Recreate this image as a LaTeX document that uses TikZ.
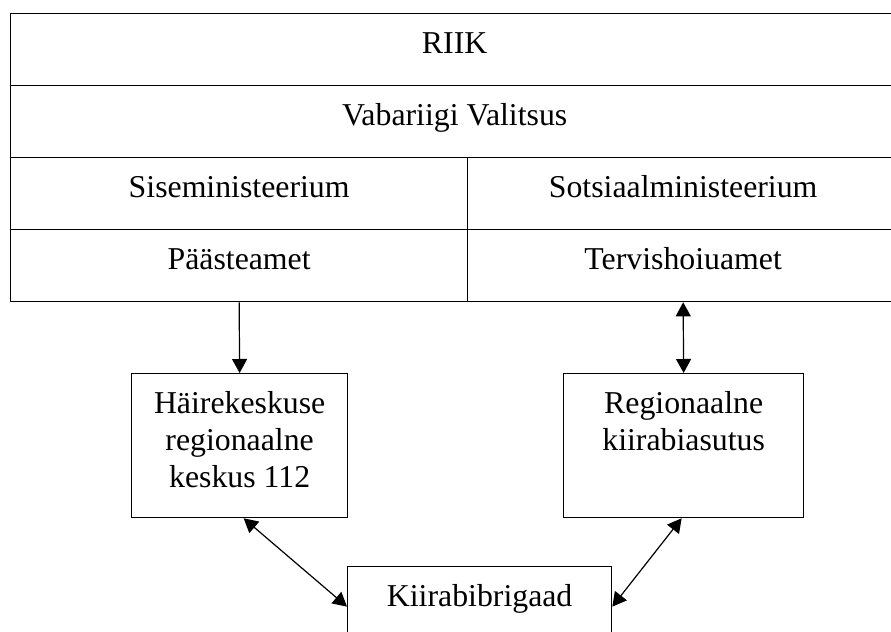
\documentclass[tikz,border=0pt]{standalone}
\usepackage{fontspec}
\setmainfont{Liberation Serif}
\usetikzlibrary{positioning,arrows.meta,calc}

\tikzset{
  cell/.style={draw, line width=0.65pt, inner sep=0pt, anchor=north west,
               text height=20pt, text depth=16pt},
  box/.style={draw, line width=0.65pt, inner sep=0pt, anchor=north west, align=center,
              text height=20pt, text depth=52pt},
  link/.style={line width=0.6pt, -{Triangle[length=7pt, width=7.5pt]}},
  twoway/.style={line width=0.6pt, {Triangle[length=7pt, width=7.5pt]}-{Triangle[length=7pt, width=7.5pt]}},
}

\begin{document}
\begin{tikzpicture}[x=0.5pt, y=-0.5pt, font=\fontsize{15.9}{18.35}\selectfont]
    \useasboundingbox (0,0) rectangle (891,632);
    \clip (0,0) rectangle (891,632);
    % tabel
    \node[cell, minimum width=444pt] (riik) at (10,13) {RIIK};
    \node[cell, minimum width=444pt] (valitsus) at (10,85) {Vabariigi Valitsus};
    \node[cell, minimum width=228.5pt] (sisemin) at (10,157) {Siseministeerium};
    \node[cell, minimum width=215.5pt] (sotsmin) at (467,157) {Sotsiaalministeerium};
    \node[cell, minimum width=228.5pt] (paaste) at (10,229) {Päästeamet};
    \node[cell, minimum width=215.5pt] (tervis) at (467,229) {Tervishoiuamet};
    % allasutused
    \node[box, minimum width=108pt, text height=56.7pt, text depth=15.3pt] (hk) at (131,373)
      {Häirekeskuse\\regionaalne\\keskus 112};
    \node[box, minimum width=120pt, text height=38.35pt, text depth=33.65pt] (rk) at (563,373)
      {Regionaalne\\kiirabiasutus};
    \node[box, minimum width=132pt] (kb) at (347,566) {Kiirabibrigaad};
    % seosed
    \draw[link] (paaste.south) -- (hk.north);
    \draw[twoway] (tervis.south) -- (rk.north);
    \draw[twoway] ($(hk.south)+(4,0)$) -- (kb.base west);
    \draw[twoway] ($(rk.south)+(-2,0)$) -- (kb.base east);
  \end{tikzpicture}
\end{document}
